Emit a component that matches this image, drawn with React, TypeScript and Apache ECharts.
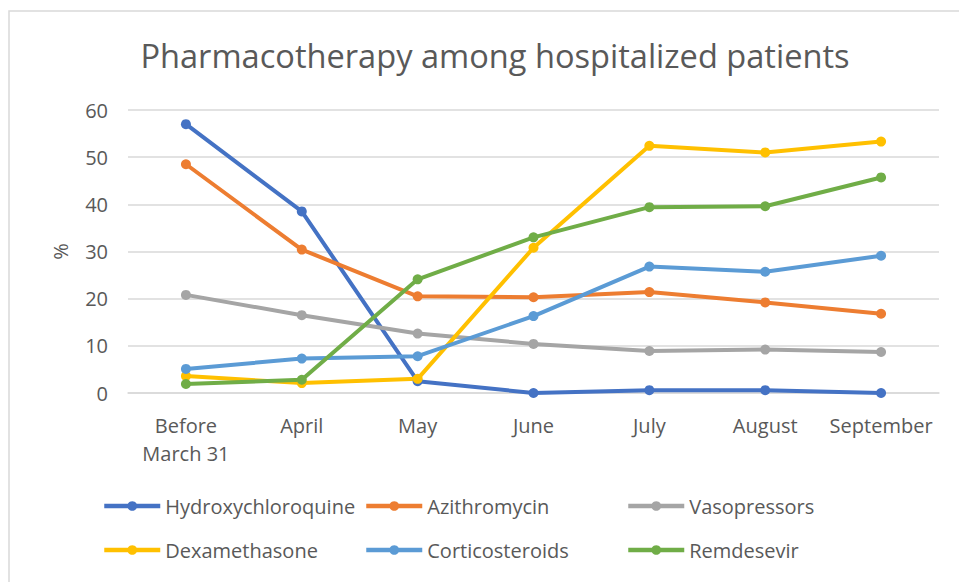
import React, { useEffect, useRef } from "react";
import * as echarts from "echarts";

const categories = ["Before\nMarch 31", "April", "May", "June", "July", "August", "September"];
const hydroxychloroquine = [57.0, 38.5, 2.5, 0.0, 0.6, 0.6, 0.0];
const azithromycin = [48.5, 30.4, 20.5, 20.3, 21.4, 19.2, 16.8];
const vasopressors = [20.8, 16.5, 12.6, 10.4, 8.9, 9.2, 8.7];
const dexamethasone = [3.6, 2.1, 3.0, 30.8, 52.4, 51.0, 53.3];
const corticosteroids = [5.1, 7.3, 7.8, 16.3, 26.8, 25.7, 29.1];
const remdesevir = [1.9, 2.8, 24.1, 33.0, 39.4, 39.6, 45.7];

const seriesDefs = [
  { name: "Hydroxychloroquine", data: hydroxychloroquine, color: "#4472C4" },
  { name: "Azithromycin", data: azithromycin, color: "#ED7D31" },
  { name: "Vasopressors", data: vasopressors, color: "#A5A5A5" },
  { name: "Dexamethasone", data: dexamethasone, color: "#FFC000" },
  { name: "Corticosteroids", data: corticosteroids, color: "#5B9BD5" },
  { name: "Remdesevir", data: remdesevir, color: "#70AD47" },
];

const FONT = "'Open Sans', sans-serif";
const TXT = "#595959";

export default function App() {
  const ref = useRef<HTMLDivElement>(null);
  useEffect(() => {
    if (!ref.current) return;
    const chart = echarts.init(ref.current, null, { renderer: "svg" });
    const legendCols = [
      ["Hydroxychloroquine", "Dexamethasone"],
      ["Azithromycin", "Corticosteroids"],
      ["Vasopressors", "Remdesevir"],
    ];
    const legendLefts = [102, 364, 626];
    chart.setOption({
      animation: false,
      backgroundColor: "#ffffff",
      title: {
        text: "Pharmacotherapy among hospitalized patients",
        left: 490,
        top: 34,
        textAlign: "center",
        textStyle: { fontFamily: FONT, fontSize: 32.6, fontWeight: "normal", color: TXT },
      },
      graphic: [
        {
          type: "rect",
          shape: { x: 9, y: 11, width: 980, height: 600 },
          style: { fill: "none", stroke: "#d9d9d9", lineWidth: 1.5 },
          silent: true,
        },
      ],
      legend: legendCols.map((col, i) => ({
        data: col,
        orient: "vertical",
        left: legendLefts[i],
        top: 496,
        padding: 0,
        itemGap: 24,
        itemWidth: 56,
        itemHeight: 12,
        lineStyle: { width: 4.5 },
        textStyle: { fontFamily: FONT, fontSize: 20, color: TXT },
      })),
      grid: { left: 128, right: 20, top: 110, bottom: 189, containLabel: false },
      xAxis: {
        type: "category",
        data: categories,
        boundaryGap: true,
        axisLine: { show: true, lineStyle: { color: "#d9d9d9", width: 1.5 } },
        axisTick: { show: false },
        axisLabel: {
          fontFamily: FONT,
          fontSize: 20,
          color: TXT,
          margin: 18,
          lineHeight: 28,
          interval: 0,
        },
      },
      yAxis: {
        type: "value",
        min: 0,
        max: 60,
        interval: 10,
        name: "%",
        nameLocation: "middle",
        nameGap: 58,
        nameRotate: 90,
        nameTextStyle: { fontFamily: FONT, fontSize: 20, color: TXT },
        axisLine: { show: false },
        axisTick: { show: false },
        splitLine: { lineStyle: { color: "#d9d9d9", width: 1.5 } },
        axisLabel: { fontFamily: FONT, fontSize: 20, color: TXT, margin: 20 },
      },
      series: seriesDefs.map((s) => ({
        name: s.name,
        type: "line",
        data: s.data,
        symbol: "circle",
        symbolSize: 10,
        color: s.color,
        lineStyle: { width: 4, color: s.color },
        itemStyle: { color: s.color },
      })),
    });
    return () => chart.dispose();
  }, []);
  return (
    <div
      ref={ref}
      style={{ position: "fixed", left: 0, top: 0, width: 959, height: 582 }}
    />
  );
}
